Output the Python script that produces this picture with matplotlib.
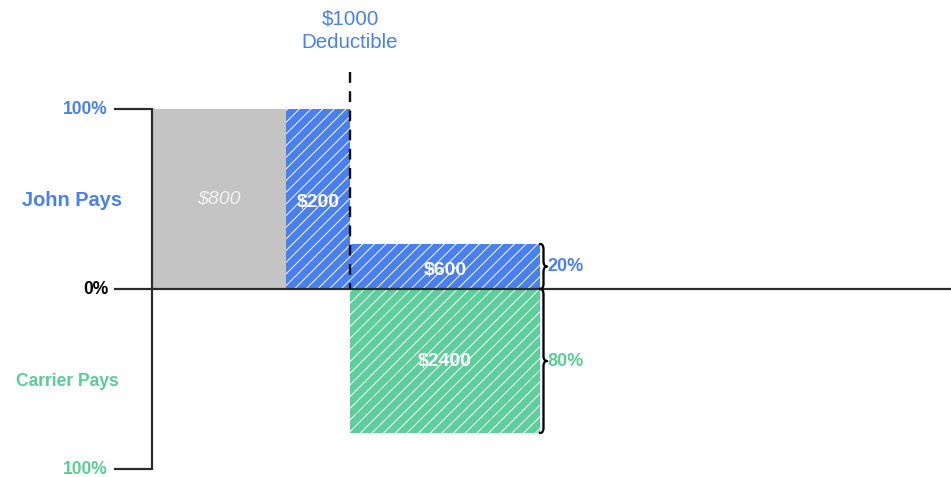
import matplotlib
matplotlib.use("Agg")
import matplotlib.pyplot as plt
from matplotlib.path import Path
from matplotlib.patches import PathPatch
import numpy as np

DPI = 70  # hatch spacing scales with dpi, 70 gives the denser look of the original
W, H = 951, 477

# data
seg_labels = ["$800", "$200", "$600"]
seg_widths = [134, 64, 190]          # drawing widths, schematic (not to scale)
john_share = [1.0, 1.0, 0.25]
carrier_share = [0.0, 0.0, 0.8]
carrier_labels = ["", "", "$2400"]
pct_labels = ["20%", "80%"]
deductible_label = "$1000\nDeductible"

GRAY = "#c4c4c4"
BLUE = "#4a7ff2"
GREEN = "#5ecf9c"
BLUE_TXT = "#4a80ee"
GREEN_TXT = "#5ccc98"
AX = "#2b2b2b"

plt.rcParams["font.family"] = ["Liberation Sans", "DejaVu Sans"]
plt.rcParams["hatch.linewidth"] = 1.0


def pt(px):
    return px * 72.0 / DPI


def yy(py):
    # pixel row -> share units (0% at row 289, 180 px per 100%)
    return (289 - py) / 180.0


def brace(ax, x, y_top, y_bot, w, r, color):
    xm = x + w / 2.0
    ym = (y_top + y_bot) / 2.0
    verts = [(x, y_top), (xm, y_top), (xm, y_top - r),
             (xm, ym + r), (xm, ym), (x + w, ym),
             (xm, ym), (xm, ym - r),
             (xm, y_bot + r), (xm, y_bot), (x, y_bot)]
    codes = [Path.MOVETO, Path.CURVE3, Path.CURVE3,
             Path.LINETO, Path.CURVE3, Path.CURVE3,
             Path.CURVE3, Path.CURVE3,
             Path.LINETO, Path.CURVE3, Path.CURVE3]
    ax.add_patch(PathPatch(Path(verts, codes), fill=False, lw=pt(2.3), ec=color,
                           capstyle="round", joinstyle="round", zorder=5))


fig = plt.figure(figsize=(W / DPI, H / DPI), dpi=DPI)
ax = fig.add_axes([0, 0, 1, 1])
ax.set_xlim(0, W)
ax.set_ylim(yy(H), yy(0))
ax.axis("off")

x0 = 152
lefts = x0 + np.concatenate([[0], np.cumsum(seg_widths)[:-1]])
centers = lefts + np.array(seg_widths) / 2.0

fills = [GRAY, BLUE, BLUE]
hatches = [None, "//", "//"]
jb = ax.bar(lefts, john_share, width=seg_widths, align="edge", color=fills,
            edgecolor="white", linewidth=0, zorder=2)
for p, h in zip(jb, hatches):
    if h:
        p.set_hatch(h)
    else:
        p.set_edgecolor(GRAY)

cshare = np.array(carrier_share)
cb = ax.bar(lefts, cshare, width=seg_widths, bottom=-cshare, align="edge",
            color=GREEN, edgecolor="white", linewidth=0, hatch="//", zorder=2)

# bar labels
for i, lab in enumerate(seg_labels):
    if i == 0:
        ax.text(centers[i], john_share[i] / 2, lab, color="#f2f2f2", style="italic",
                fontsize=pt(19.5), ha="center", va="center", zorder=6)
    else:
        ax.text(centers[i], john_share[i] / 2 - 0.02, lab, color="white", weight="bold",
                fontsize=pt(19.5), ha="center", va="center", zorder=6)
for i, lab in enumerate(carrier_labels):
    if lab:
        ax.text(centers[i], -cshare[i] / 2, lab, color="white", weight="bold",
                fontsize=pt(19.5), ha="center", va="center", zorder=6)

# axes lines
ax.plot([x0, x0], [1.0, -1.0], color=AX, lw=pt(2.2), zorder=4, solid_capstyle="butt")
ax.plot([115, x0], [1.0, 1.0], color=AX, lw=pt(2.2), zorder=4)
ax.plot([115, x0], [-1.0, -1.0], color=AX, lw=pt(2.2), zorder=4)
ax.plot([115, W], [0, 0], color=AX, lw=pt(2.2), zorder=4)

# deductible marker
xd = lefts[2]
ax.plot([xd, xd], [yy(72), 0], color="#111111", lw=pt(2.4), ls=(0, (4.5, 3.5)), zorder=4)
ax.text(xd, yy(31), deductible_label, color=BLUE_TXT, fontsize=pt(20.5),
        ha="center", va="center", linespacing=1.3)

# y labels
ax.text(108, 1.0, "100%", color=BLUE_TXT, weight="bold", fontsize=pt(17.5),
        ha="right", va="center")
ax.text(108, 0.0, "0%", color="black", weight="bold", fontsize=pt(17.5),
        ha="right", va="center")
ax.text(108, -1.0, "100%", color=GREEN_TXT, weight="bold", fontsize=pt(17.5),
        ha="right", va="center")
ax.text(72, yy(200), "John Pays", color=BLUE_TXT, weight="bold", fontsize=pt(20),
        ha="center", va="center")
ax.text(67, yy(381), "Carrier Pays", color=GREEN_TXT, weight="bold", fontsize=pt(17.5),
        ha="center", va="center")

# braces with shares
xe = lefts[2] + seg_widths[2]
brace(ax, xe, john_share[2], 0, 7, 0.03, "black")
brace(ax, xe, 0, -cshare[2], 7, 0.03, "black")
ax.text(xe + 7, john_share[2] / 2, pct_labels[0], color=BLUE_TXT, weight="bold",
        fontsize=pt(18), ha="left", va="center")
ax.text(xe + 7, -cshare[2] / 2, pct_labels[1], color=GREEN_TXT, weight="bold",
        fontsize=pt(18), ha="left", va="center")

fig.savefig("out.png", dpi=DPI)
